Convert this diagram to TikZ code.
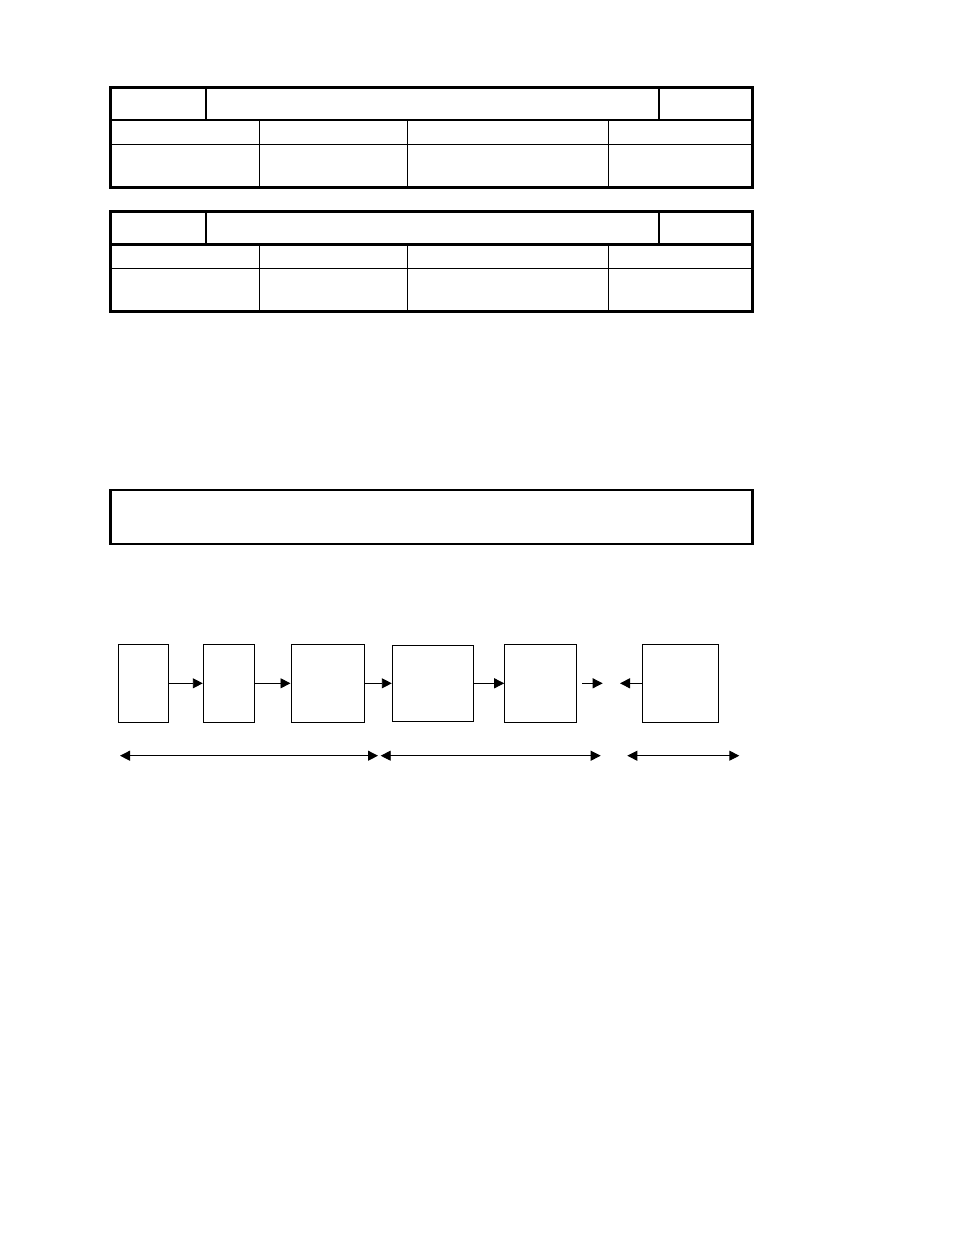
\documentclass[tikz,border=0pt]{standalone}
\usepackage{tikz}
\usetikzlibrary{arrows.meta,positioning}

\begin{document}
\begin{tikzpicture}[x=1pt,y=-1pt,
    heavy/.style={line width=2.7pt},
    light/.style={line width=1pt},
    blk/.style={draw,line width=1pt,inner sep=0pt,minimum height=78pt},
    flow/.style={line width=0.9pt,-{Triangle[length=10pt,width=10pt]}},
    span/.style={line width=0.9pt,{Triangle[length=10pt,width=10pt]}-{Triangle[length=10pt,width=10pt]}}]
  \useasboundingbox (0,0) rectangle (954,1235);

  \foreach \t in {0,124.4}
  {
    \begin{scope}[yshift=-\t pt]
      \draw[heavy] (110.7,87.2) rectangle (752.7,187.3);
      \draw[heavy] (110.7,120) -- (752.7,120);
      \draw[heavy] (206,87.2) -- (206,120);
      \draw[heavy] (659,87.2) -- (659,120);
      \draw[light] (110.7,144.3) -- (752.7,144.3);
      \foreach \cx in {259.7,407.3,608.7}
        \draw[light] (\cx,120) -- (\cx,187.3);
    \end{scope}
  }

  \draw[heavy] (110.5,490) rectangle (752.5,544);

  \path
  (143.5,683.3) node[blk,minimum width=50pt](b1) {}
  (228.8,683.3) node[blk,minimum width=51pt](b2) {}
  (327.5,683.3) node[blk,minimum width=73pt](b3) {}
  (432.8,683.3) node[blk,minimum width=81pt,minimum height=76pt](b4) {}
  (540.7,683.3) node[blk,minimum width=72pt](b5) {}
  (680.8,683.3) node[blk,minimum width=76pt](b6) {}
  ;

  \coordinate (o1) at (582,683.3);
  \coordinate (o2) at (602.7,683.3);
  \coordinate (i1) at (620,683.3);

  \draw[flow] (b1) -- (b2);
  \draw[flow] (b2) -- (b3);
  \draw[flow] (b3) -- (b4);
  \draw[flow] (b4) -- (b5);
  \draw[flow] (o1) -- (o2);
  \draw[flow] (b6.west) -- (i1);

  \coordinate (s1) at (120,755.7);
  \coordinate (s2) at (378,755.7);
  \coordinate (s3) at (380.7,755.7);
  \coordinate (s4) at (600.7,755.7);
  \coordinate (s5) at (627.3,755.7);
  \coordinate (s6) at (739.3,755.7);

  \draw[span] (s1) -- (s2);
  \draw[span] (s3) -- (s4);
  \draw[span] (s5) -- (s6);
\end{tikzpicture}
\end{document}
